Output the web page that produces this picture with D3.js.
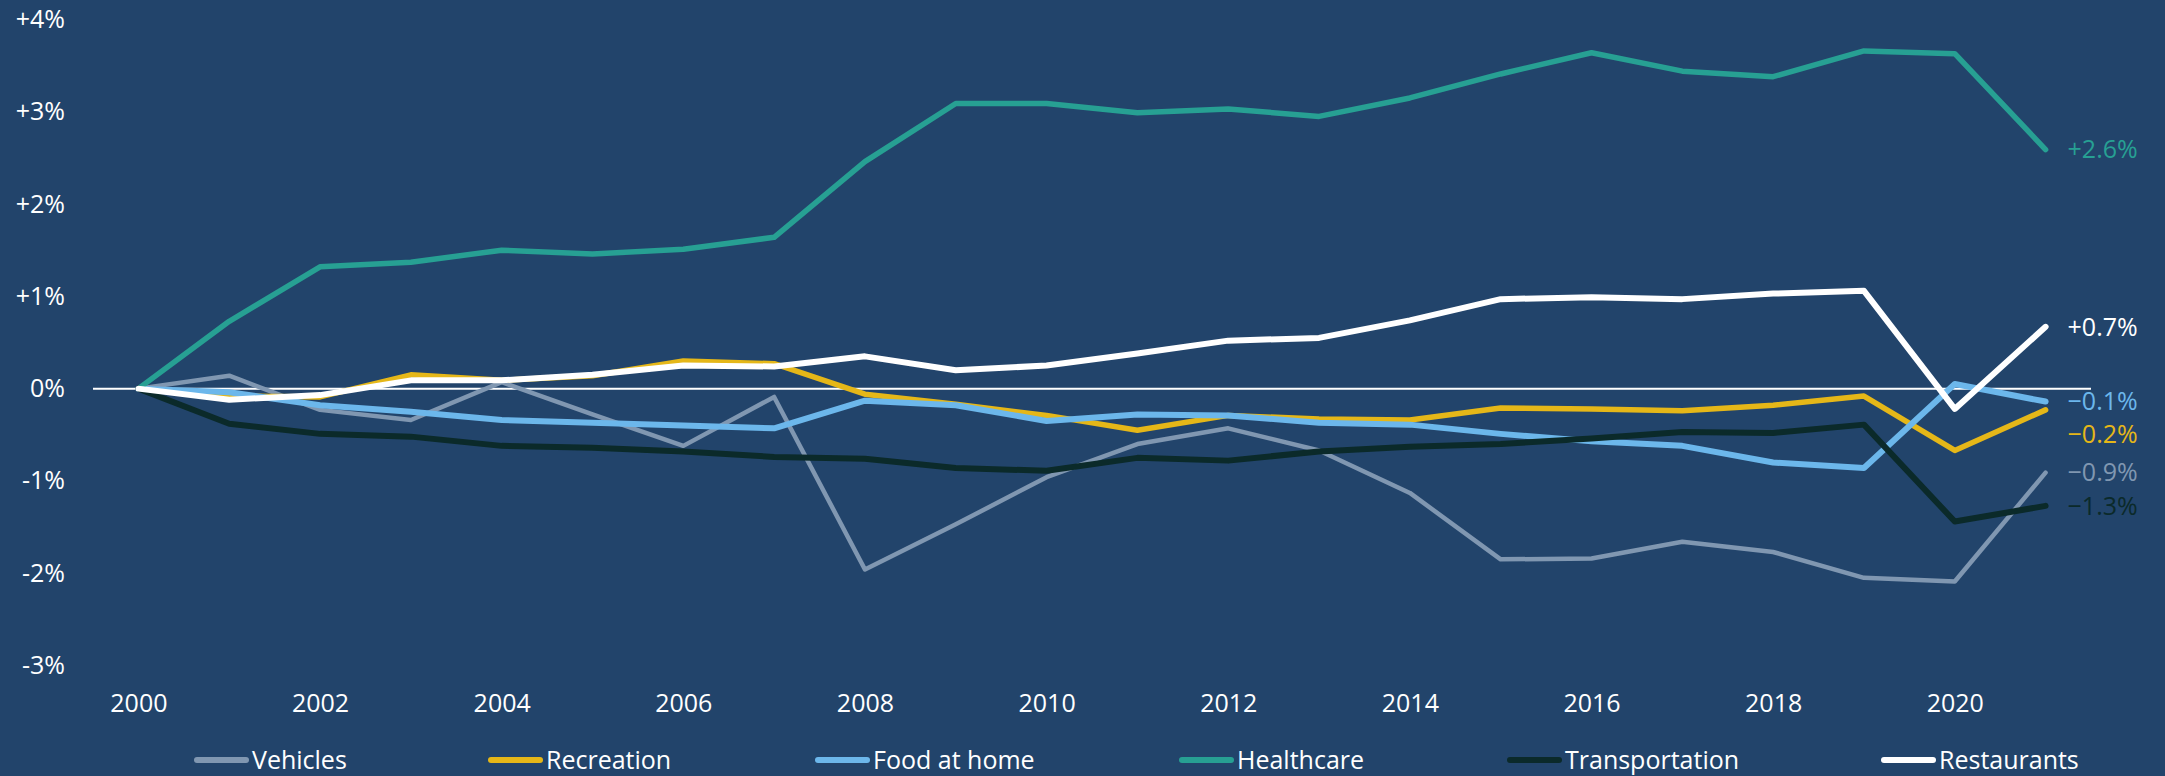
<!DOCTYPE html>
<html>
<head>
<meta charset="utf-8">
<script src="https://cdn.jsdelivr.net/npm/d3@7"></script>
<style>
  html, body { margin: 0; padding: 0; background: #22446b; }
  svg text { font-family: "Open Sans", sans-serif; }
</style>
</head>
<body>
<div id="chartContainer"></div>
<script>
// data (% change vs 2000)
const years = [2000, 2001, 2002, 2003, 2004, 2005, 2006, 2007, 2008, 2009, 2010,
  2011, 2012, 2013, 2014, 2015, 2016, 2017, 2018, 2019, 2020, 2021];
const seriesNames = ["Vehicles", "Recreation", "Food at home", "Healthcare", "Transportation", "Restaurants"];
const vehicles = [0, 0.14, -0.23, -0.34, 0.07, -0.28, -0.62, -0.09, -1.96, -1.47, -0.96,
  -0.60, -0.43, -0.67, -1.13, -1.85, -1.84, -1.66, -1.77, -2.05, -2.09, -0.91];
const recreation = [0, -0.08, -0.09, 0.15, 0.09, 0.14, 0.30, 0.27, -0.06, -0.17, -0.29,
  -0.45, -0.29, -0.33, -0.34, -0.21, -0.22, -0.24, -0.18, -0.08, -0.67, -0.23];
const foodAtHome = [0, -0.04, -0.18, -0.25, -0.34, -0.37, -0.40, -0.43, -0.13, -0.18, -0.35,
  -0.28, -0.29, -0.37, -0.39, -0.49, -0.57, -0.62, -0.80, -0.86, 0.05, -0.14];
const healthcare = [0, 0.73, 1.32, 1.37, 1.50, 1.46, 1.51, 1.64, 2.46, 3.09, 3.09,
  2.99, 3.03, 2.95, 3.15, 3.41, 3.64, 3.44, 3.38, 3.66, 3.63, 2.59];
const transportation = [0, -0.38, -0.49, -0.52, -0.62, -0.64, -0.68, -0.74, -0.76, -0.86, -0.89,
  -0.75, -0.78, -0.68, -0.63, -0.60, -0.54, -0.47, -0.48, -0.39, -1.44, -1.27];
const restaurants = [0, -0.12, -0.07, 0.09, 0.09, 0.15, 0.25, 0.24, 0.35, 0.20, 0.25,
  0.38, 0.52, 0.55, 0.74, 0.97, 0.99, 0.97, 1.03, 1.06, -0.22, 0.67];
const yTicks = [-3, -2, -1, 0, 1, 2, 3, 4];
const xTicks = [2000, 2002, 2004, 2006, 2008, 2010, 2012, 2014, 2016, 2018, 2020];

const seriesValues = [vehicles, recreation, foodAtHome, healthcare, transportation, restaurants];
const colors = ["#8097b1", "#e5b718", "#6cb7eb", "#27a093", "#0b2a2a", "#ffffff"];
const widths = [4.5, 5.5, 6, 5.5, 6, 6];

const W = 2165, H = 776;
const plot = { left: 93, right: 2091, top: 19.5, bottom: 665.5 };
const fontSize = "25px";

const svg = d3.select("#chartContainer")
  .append("svg")
  .attr("width", W)
  .attr("height", H);

svg.append("rect").attr("width", W).attr("height", H).attr("fill", "#22446b");

const x = d3.scalePoint().domain(years).range([plot.left, plot.right]).padding(0.5);
const y = d3.scaleLinear().domain([-3, 4]).range([plot.bottom, plot.top]);

// y axis labels
svg.append("g")
  .attr("transform", "translate(65,0)")
  .call(d3.axisLeft(y).tickValues(yTicks).tickSize(0).tickPadding(0)
    .tickFormat(d => (d > 0 ? "+" : "") + d + "%"))
  .call(g => g.select(".domain").remove())
  .selectAll("text")
  .attr("fill", "#ffffff")
  .style("font-size", fontSize);

// x axis labels
svg.append("g")
  .attr("transform", "translate(0,694)")
  .call(d3.axisBottom(x).tickValues(xTicks).tickSize(0).tickPadding(0))
  .call(g => g.select(".domain").remove())
  .selectAll("text")
  .attr("fill", "#ffffff")
  .style("font-size", fontSize);

// zero line
svg.append("line")
  .attr("x1", plot.left).attr("x2", plot.right)
  .attr("y1", y(0)).attr("y2", y(0))
  .attr("stroke", "#ffffff")
  .attr("stroke-width", 2);

const series = seriesNames.map((name, i) => ({
  name: name,
  color: colors[i],
  width: widths[i],
  values: seriesValues[i].map((v, j) => ({ year: years[j], value: v }))
}));

const line = d3.line().x(d => x(d.year)).y(d => y(d.value));

svg.selectAll(".series")
  .data(series)
  .enter()
  .append("path")
  .attr("class", "series")
  .attr("d", d => line(d.values))
  .attr("fill", "none")
  .attr("stroke", d => d.color)
  .attr("stroke-width", d => d.width)
  .attr("stroke-linejoin", "round")
  .attr("stroke-linecap", "round");

// end labels, pushed down where they would collide
const fmt = d3.format("+.1f");
const labels = series.map(s => {
  const last = s.values[s.values.length - 1];
  return { text: fmt(last.value) + "%", color: s.color, y: y(last.value), x: x(last.year) };
}).sort((a, b) => a.y - b.y);
for (let i = 1; i < labels.length; i++) {
  if (labels[i].y - labels[i - 1].y < 33) labels[i].y = labels[i - 1].y + 33;
}
svg.selectAll(".endlabel")
  .data(labels)
  .enter()
  .append("text")
  .attr("class", "endlabel")
  .attr("x", d => d.x + 22)
  .attr("y", d => d.y)
  .attr("dy", "0.35em")
  .attr("fill", d => d.color)
  .style("font-size", fontSize)
  .text(d => d.text);

// legend
const legendX = [194, 488, 815, 1179, 1507, 1881];
const legend = svg.selectAll(".legend")
  .data(series)
  .enter()
  .append("g")
  .attr("class", "legend")
  .attr("transform", (d, i) => "translate(" + legendX[i] + ",760)");
legend.append("line")
  .attr("x1", 3).attr("x2", 52)
  .attr("stroke", d => d.color)
  .attr("stroke-width", 6)
  .attr("stroke-linecap", "round");
legend.append("text")
  .attr("x", 58)
  .attr("y", 9)
  .attr("fill", "#ffffff")
  .style("font-size", fontSize)
  .text(d => d.name);
</script>
</body>
</html>
